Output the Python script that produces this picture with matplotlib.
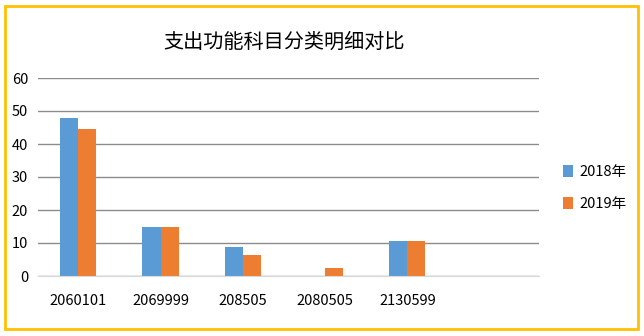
import numpy as np
import matplotlib
matplotlib.use('Agg')
import matplotlib.pyplot as plt
from matplotlib.patches import Rectangle

plt.rcParams['font.family'] = ['Noto Sans CJK SC', 'DejaVu Sans']

# dane
kategorie = ['2060101', '2069999', '208505', '2080505', '2130599', '']
wart_2018 = [48, 15, 8.8, np.nan, 10.6, np.nan]
wart_2019 = [44.5, 15, 6.4, 2.4, 10.6, np.nan]
serie = ['2018年', '2019年']
kolory = ['#5B9BD5', '#ED7D31']

fig = plt.figure(figsize=(6.44, 3.36), dpi=100)
ax = fig.add_axes([38 / 644, 1 - 276 / 336, (539 - 38) / 644, (276 - 78) / 336])

x = np.arange(len(kategorie))
szer = 0.22
ax.bar(x - szer / 2, wart_2018, szer, color=kolory[0], label=serie[0], zorder=3)
ax.bar(x + szer / 2, wart_2019, szer, color=kolory[1], label=serie[1], zorder=3)

ax.set_xlim(-0.49, 5.6)
ax.set_ylim(0, 60)
ax.set_yticks(range(0, 61, 10))
ax.set_xticks(x)
ax.set_xticklabels(kategorie)
ax.tick_params(axis='both', length=0, labelsize=10.5)
ax.tick_params(axis='x', pad=13)
ax.tick_params(axis='y', pad=7)

ax.yaxis.grid(True, color='#8c8c8c', linewidth=1, zorder=0)
for s in ['top', 'right', 'left']:
    ax.spines[s].set_visible(False)
ax.spines['bottom'].set_color('#d9d9d9')
ax.spines['bottom'].set_zorder(4)

fig.text(284 / 644, 1 - 42 / 336, '支出功能科目分类明细对比', ha='center', va='center', fontsize=14.5)

fig.legend(loc='center left', bbox_to_anchor=(550 / 644, 1 - 188 / 336), frameon=False,
           fontsize=10.5, handlelength=0.7, handleheight=0.9, handletextpad=0.4, labelspacing=1.2)

fig.patches.append(Rectangle((4.5 / 644, 1 - 329 / 336), (638 - 4.5) / 644, (329 - 5.5) / 336,
                             transform=fig.transFigure, fill=False, edgecolor='#FFC000', linewidth=2))

fig.savefig('out.png', dpi=100)
